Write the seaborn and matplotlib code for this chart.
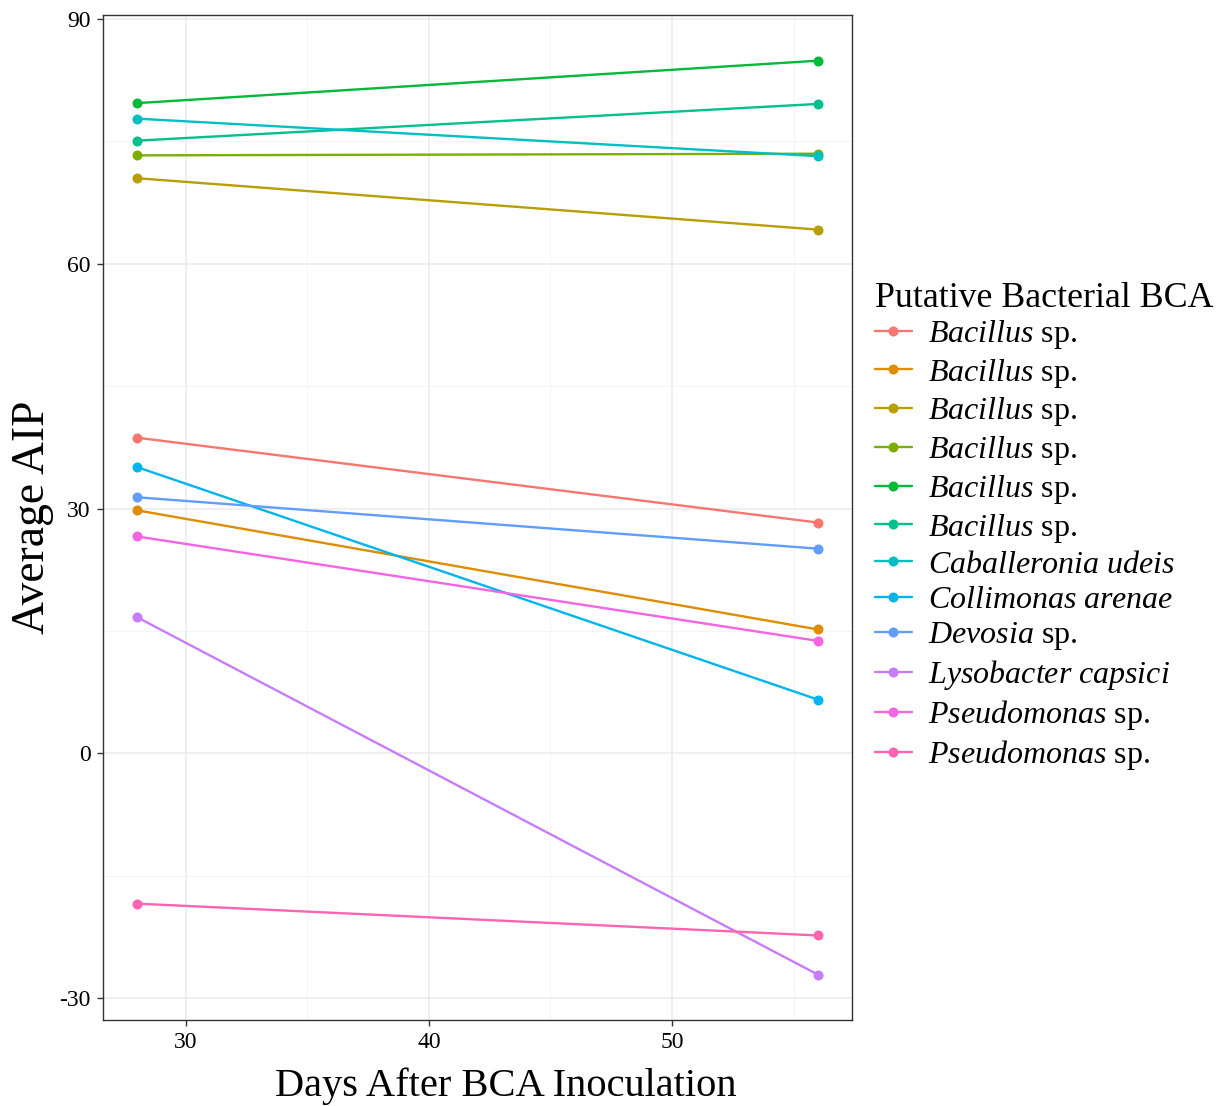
import matplotlib
matplotlib.use("Agg")
import matplotlib.pyplot as plt
from matplotlib.lines import Line2D
from matplotlib.ticker import MultipleLocator
import seaborn as sns
import pandas as pd

# ---------------- data ----------------
days = [28, 56]
series_keys = ["Bacillus 1", "Bacillus 2", "Bacillus 3", "Bacillus 4", "Bacillus 5",
               "Bacillus 6", "Caballeronia udeis", "Collimonas arenae", "Devosia",
               "Lysobacter capsici", "Pseudomonas 1", "Pseudomonas 2"]
legend_labels = [r"$\mathit{Bacillus}$ sp."] * 6 + [
    r"$\mathit{Caballeronia\ udeis}$",
    r"$\mathit{Collimonas\ arenae}$",
    r"$\mathit{Devosia}$ sp.",
    r"$\mathit{Lysobacter\ capsici}$",
    r"$\mathit{Pseudomonas}$ sp.",
    r"$\mathit{Pseudomonas}$ sp.",
]
aip_day28 = [38.7, 29.8, 70.5, 73.3, 79.7, 75.1, 77.8, 35.1, 31.4, 16.7, 26.6, -18.4]
aip_day56 = [28.3, 15.2, 64.2, 73.5, 84.9, 79.6, 73.2, 6.6, 25.1, -27.1, 13.8, -22.3]
colors = ["#F8766D", "#DE8C00", "#B79F00", "#7CAE00", "#00BA38", "#00C08B",
          "#00BFC4", "#00B4F0", "#619CFF", "#C77CFF", "#F564E3", "#FF64B0"]

rows = []
for k, a, b in zip(series_keys, aip_day28, aip_day56):
    rows.append({"BCA": k, "Days": days[0], "AIP": a})
    rows.append({"BCA": k, "Days": days[1], "AIP": b})
df = pd.DataFrame(rows)

# ---------------- style ----------------
sns.set_theme(style="white")
plt.rcParams["font.family"] = ["Liberation Serif", "DejaVu Serif"]
plt.rcParams["mathtext.fontset"] = "custom"
plt.rcParams["mathtext.rm"] = "Liberation Serif"
plt.rcParams["mathtext.it"] = "Liberation Serif:italic"
plt.rcParams["axes.unicode_minus"] = False
plt.rcParams["text.color"] = "black"
plt.rcParams["axes.labelcolor"] = "black"

fig = plt.figure(figsize=(12.25, 11.06), dpi=100)
ax = fig.add_axes([103 / 1225, 1 - 1020 / 1106, (852 - 103) / 1225, (1020 - 15) / 1106])

palette = dict(zip(series_keys, colors))
sns.lineplot(data=df, x="Days", y="AIP", hue="BCA", hue_order=series_keys,
             palette=palette, marker="o", markersize=7.2, markeredgewidth=0,
             linewidth=1.7, legend=False, ax=ax)

ax.set_xlim(26.6, 57.4)
ax.set_ylim(-32.66, 90.5)
ax.xaxis.set_major_locator(MultipleLocator(10))
ax.yaxis.set_major_locator(MultipleLocator(30))
ax.xaxis.set_minor_locator(MultipleLocator(5))
ax.yaxis.set_minor_locator(MultipleLocator(15))
ax.grid(True, which="major", color="#EBEBEB", linewidth=1.1)
ax.grid(True, which="minor", color="#F2F2F2", linewidth=0.6)
ax.set_axisbelow(True)
for s in ax.spines.values():
    s.set_color("#333333")
    s.set_linewidth(1.0)
ax.tick_params(axis="both", which="major", length=4, width=1.0, color="#333333",
               labelsize=17, labelcolor="black", pad=5, direction="out",
               bottom=True, left=True)
ax.tick_params(axis="both", which="minor", length=0)

ax.set_xlabel("Days After BCA Inoculation", fontsize=29.2)
ax.xaxis.set_label_coords((506 - 103) / 749, -0.047, transform=ax.transAxes)
ax.xaxis.label.set_va("top")
ax.set_ylabel("Average AIP", fontsize=32.8, labelpad=4)

handles = [Line2D([0], [0], color=c, linewidth=1.7, marker="o", markersize=7.2,
                  markeredgewidth=0) for c in colors]
leg = fig.legend(handles, legend_labels, title="Putative Bacterial BCA",
                 loc="upper left", bbox_to_anchor=(875 / 1225, 1 - 282 / 1106),
                 frameon=False, fontsize=23, title_fontsize=25.8,
                 handlelength=1.15, handletextpad=0.5, labelspacing=0.18,
                 borderpad=0.0, borderaxespad=0.0, alignment="left")
leg._legend_box.sep = 2

fig.savefig("out.png", dpi=100)
